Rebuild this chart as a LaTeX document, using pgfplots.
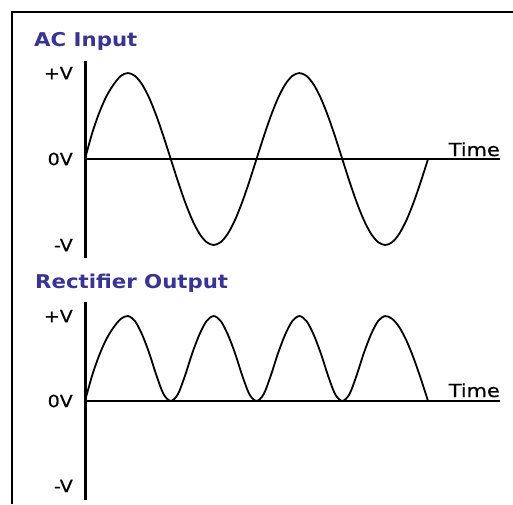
\documentclass[border=0pt]{standalone}
\usepackage{pgfplots}
\pgfplotsset{compat=1.18}
\usepackage{fontspec}
\setmainfont{DejaVu Sans}
\newfontfamily\labfont{DejaVu Sans}[FakeBold=0.5]
\definecolor{titleblue}{RGB}{55,52,150}

% text in the reference is a little wide, so stretch it
\newcommand{\lab}[1]{\scalebox{1.12}[1]{\labfont\fontsize{17}{20}\selectfont #1}}
\newcommand{\tlab}[1]{\scalebox{1.16}[1]{\labfont\fontsize{18}{21}\selectfont #1}}
\newcommand{\ttl}[1]{\scalebox{1.12}[1]{\fontsize{19}{22}\selectfont\bfseries #1}}

\pgfplotsset{
  wave/.style={
    scale only axis,
    width=415pt,
    axis lines=none,
    xmin=0, xmax=871,
    clip=false,
    anchor=south west,
  },
  zeroline/.style={black, line width=1.3pt, mark=none},
  vline/.style={black, line width=3pt, mark=none},
  curve/.style={black, line width=1.8pt, mark=none, smooth},
}

\begin{document}
\begin{tikzpicture}
\useasboundingbox (0,0) rectangle (513pt,504pt);
\draw[line width=2.2pt] (12pt,0) -- (12pt,492pt) -- (513pt,492pt);

% AC input
\node[anchor=base west, inner sep=0, text=titleblue] at (34pt,457pt) {\ttl{AC Input}};
\begin{axis}[wave, height=197pt, ymin=-1.151, ymax=1.14, at={(85pt,246pt)}]
  \addplot[zeroline] coordinates {(0,0) (871,0)};
  \addplot[vline] coordinates {(0,-1.151) (0,1.14)};
  \addplot[curve] coordinates {
    (0,0) (15,0.3) (30,0.54) (45,0.73) (60,0.866) (75,0.966) (90,1)
    (105,0.966) (120,0.866) (135,0.707) (150,0.5) (165,0.259) (180,0)
    (195,-0.259) (210,-0.5) (225,-0.707) (240,-0.866) (255,-0.966) (270,-1)
    (285,-0.966) (300,-0.866) (315,-0.707) (330,-0.5) (345,-0.259) (360,0)
    (375,0.259) (390,0.5) (405,0.707) (420,0.866) (435,0.966) (450,1)
    (465,0.966) (480,0.866) (495,0.707) (510,0.5) (525,0.259) (540,0)
    (555,-0.259) (570,-0.5) (585,-0.707) (600,-0.866) (615,-0.966) (630,-1)
    (645,-0.966) (660,-0.866) (675,-0.707) (690,-0.5) (705,-0.259) (720,0)
  };
  \node[anchor=east, inner sep=0, xshift=-12pt] at (axis cs:0,1) {\lab{+V}};
  \node[anchor=east, inner sep=0, xshift=-12pt] at (axis cs:0,0) {\lab{0V}};
  \node[anchor=east, inner sep=0, xshift=-12pt] at (axis cs:0,-1) {\lab{-V}};
  \node[anchor=base east, inner sep=0, yshift=3pt] at (axis cs:871,0) {\tlab{Time}};
\end{axis}

% rectifier output
\node[anchor=base west, inner sep=0, text=titleblue] at (35pt,216pt) {\ttl{Rectifier Output}};
\begin{axis}[wave, height=198pt, ymin=-1.165, ymax=1.165, at={(85pt,4pt)}]
  \addplot[zeroline] coordinates {(0,0) (871,0)};
  \addplot[vline] coordinates {(0,-1.165) (0,1.165)};
  \addplot[curve] coordinates {
    (0,0) (15,0.3) (30,0.54) (45,0.73) (60,0.866) (75,0.966) (90,1)
    (105,0.94) (120,0.78) (135,0.56) (150,0.3) (165,0.08) (180,0)
    (195,0.08) (210,0.3) (225,0.56) (240,0.78) (255,0.94) (270,1)
    (285,0.94) (300,0.78) (315,0.56) (330,0.3) (345,0.08) (360,0)
    (375,0.08) (390,0.3) (405,0.56) (420,0.78) (435,0.94) (450,1)
    (465,0.94) (480,0.78) (495,0.56) (510,0.3) (525,0.08) (540,0)
    (555,0.08) (570,0.3) (585,0.56) (600,0.78) (615,0.94) (630,1)
    (645,0.966) (660,0.866) (675,0.707) (690,0.5) (705,0.259) (720,0)
  };
  \node[anchor=east, inner sep=0, xshift=-12pt] at (axis cs:0,1) {\lab{+V}};
  \node[anchor=east, inner sep=0, xshift=-12pt] at (axis cs:0,0) {\lab{0V}};
  \node[anchor=east, inner sep=0, xshift=-12pt] at (axis cs:0,-1) {\lab{-V}};
  \node[anchor=base east, inner sep=0, yshift=4pt] at (axis cs:871,0) {\tlab{Time}};
\end{axis}
\end{tikzpicture}
\end{document}
